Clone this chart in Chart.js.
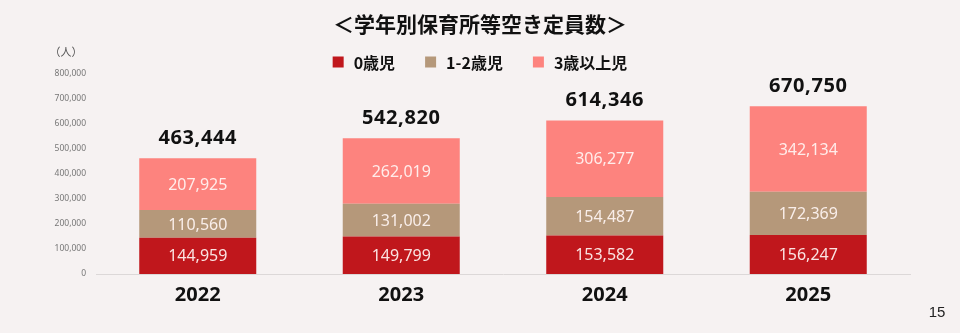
<!DOCTYPE html>
<html lang="ja">
<head>
<meta charset="utf-8">
<title>学年別保育所等空き定員数</title>
<script src="https://cdn.jsdelivr.net/npm/chart.js@4.4.1/dist/chart.umd.min.js"></script>
<style>
  html, body { margin: 0; padding: 0; background: #f6f2f2; }
  #wrap { width: 960px; height: 333px; position: relative; }
  canvas { display: block; }
</style>
</head>
<body>
<div id="wrap"><canvas id="chart" width="960" height="333"></canvas></div>
<script>
// Vacant childcare capacity by age group (people)
const years = ['2022', '2023', '2024', '2025'];
const age0 = [144959, 149799, 153582, 156247];
const age1to2 = [110560, 131002, 154487, 172369];
const age3plus = [207925, 262019, 306277, 342134];
const yTicks = [0, 100000, 200000, 300000, 400000, 500000, 600000, 700000, 800000];

const seriesNames = ['0歳児', '1-2歳児', '3歳以上児'];
const seriesColors = ['#c0171c', '#b5987a', '#fd837e'];

const totals = years.map((_, i) => age0[i] + age1to2[i] + age3plus[i]);
const fmt = v => v.toLocaleString('en-US');

const JP = '"Noto Sans CJK JP", "Noto Sans", sans-serif';
const NUM = '"Noto Sans", "Open Sans", sans-serif';

// Title, legend, unit caption and page number
const headerPlugin = {
  id: 'header',
  afterDraw(chart) {
    const ctx = chart.ctx;
    ctx.save();
    ctx.fillStyle = '#111';
    ctx.textAlign = 'center';
    ctx.textBaseline = 'middle';
    ctx.font = 'bold 21px ' + JP;
    ctx.fillText('＜学年別保育所等空き定員数＞', 480, 24);

    // legend row
    ctx.font = 'bold 16px ' + JP;
    ctx.textAlign = 'left';
    const gap = 30, box = 11, boxGap = 10;
    const widths = seriesNames.map(n => ctx.measureText(n).width);
    let total = 0;
    widths.forEach((w, i) => { total += box + boxGap + w + (i < widths.length - 1 ? gap : 0); });
    let x = 480 - total / 2;
    const y = 62;
    seriesNames.forEach((n, i) => {
      ctx.fillStyle = seriesColors[i];
      ctx.fillRect(x, y - box / 2, box, box);
      ctx.fillStyle = '#111';
      ctx.fillText(n, x + box + boxGap, y + 1);
      x += box + boxGap + widths[i] + gap;
    });

    // unit caption
    ctx.textAlign = 'center';
    ctx.fillStyle = '#555';
    ctx.font = '11px ' + JP;
    ctx.fillText('（人）', 66, 52);

    // page number
    ctx.fillStyle = '#222';
    ctx.font = '15px "Liberation Sans", Arial, sans-serif';
    ctx.fillText('15', 937, 313);
    ctx.restore();
  }
};

// Segment values inside the bars and totals above each stack
const valueLabelPlugin = {
  id: 'valueLabels',
  afterDatasetsDraw(chart) {
    const ctx = chart.ctx;
    ctx.save();
    ctx.textAlign = 'center';
    ctx.textBaseline = 'middle';
    chart.data.datasets.forEach((ds, di) => {
      const meta = chart.getDatasetMeta(di);
      meta.data.forEach((bar, i) => {
        const v = ds.data[i];
        ctx.fillStyle = 'rgba(255,245,243,0.92)';
        ctx.font = '16px ' + NUM;
        ctx.fillText(fmt(v), bar.x, (bar.y + bar.base) / 2 + 1);
      });
    });
    const top = chart.getDatasetMeta(chart.data.datasets.length - 1);
    top.data.forEach((bar, i) => {
      ctx.fillStyle = '#111';
      ctx.font = 'bold 20px ' + NUM;
      ctx.letterSpacing = '0.6px';
      ctx.fillText(fmt(totals[i]), bar.x, bar.y - 20);
    });
    ctx.restore();
  }
};

new Chart(document.getElementById('chart'), {
  type: 'bar',
  data: {
    labels: years,
    datasets: [
      { label: seriesNames[0], data: age0, backgroundColor: seriesColors[0] },
      { label: seriesNames[1], data: age1to2, backgroundColor: seriesColors[1] },
      { label: seriesNames[2], data: age3plus, backgroundColor: seriesColors[2] }
    ]
  },
  options: {
    responsive: false,
    animation: false,
    devicePixelRatio: 1,
    layout: { padding: { top: 74, right: 50, bottom: 0, left: 0 } },
    datasets: { bar: { categoryPercentage: 1, barPercentage: 0.575, borderWidth: 0 } },
    plugins: {
      legend: { display: false },
      title: { display: false },
      tooltip: { enabled: false }
    },
    scales: {
      x: {
        stacked: true,
        grid: { display: false, drawTicks: false },
        border: { display: true, color: '#dcd8d8', width: 1 },
        ticks: { color: '#111', font: { family: NUM, size: 20, weight: 'bold' }, padding: 9 },
        afterFit(scale) { scale.height = 59; }
      },
      y: {
        stacked: true,
        min: 0,
        max: 800000,
        grid: { display: false, drawTicks: false },
        border: { display: false },
        afterBuildTicks(scale) { scale.ticks = yTicks.map(v => ({ value: v })); },
        ticks: {
          color: '#777',
          font: { family: '"Noto Sans", sans-serif', size: 8.5 },
          padding: 10,
          callback: v => fmt(v)
        },
        afterFit(scale) { scale.width = 96; }
      }
    }
  },
  plugins: [headerPlugin, valueLabelPlugin]
});
</script>
</body>
</html>
